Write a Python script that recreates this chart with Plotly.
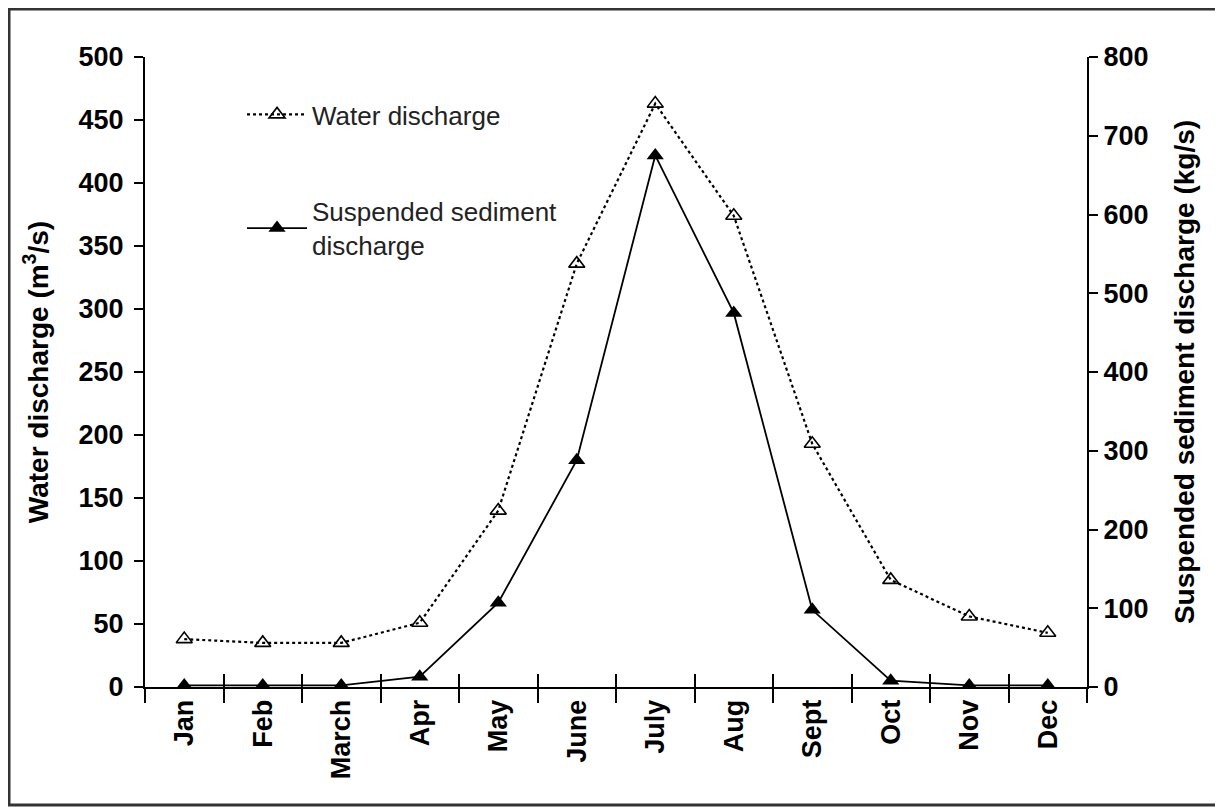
import plotly.graph_objects as go

months = ["Jan", "Feb", "March", "Apr", "May", "June", "July", "Aug", "Sept", "Oct", "Nov", "Dec"]
water_discharge = [38, 35, 35, 51, 140, 336, 463, 374, 193, 85, 56, 43]
sediment_discharge = [2, 2, 2, 13, 107, 288, 675, 475, 98, 8, 2, 2]
left_ticks = [0, 50, 100, 150, 200, 250, 300, 350, 400, 450, 500]
right_ticks = [0, 100, 200, 300, 400, 500, 600, 700, 800]

FONT = "Liberation Sans, Arial, sans-serif"

fig = go.Figure()
fig.add_trace(go.Scatter(
    x=months, y=water_discharge, name="Water discharge", mode="lines+markers",
    legendgroup="water",
    line=dict(color="black", width=2.2, dash="dot"),
    marker=dict(symbol="triangle-up-open", size=14, color="black", line=dict(width=1.6)),
    yaxis="y", xaxis="x"))
fig.add_trace(go.Scatter(
    x=months, y=sediment_discharge, name="Suspended sediment<br>discharge", mode="lines+markers",
    legendgroup="sediment",
    line=dict(color="black", width=1.8),
    marker=dict(symbol="triangle-up", size=15, color="black"),
    yaxis="y2", xaxis="x"))
# helper trace for the inside half of the crossing x ticks
fig.add_trace(go.Scatter(x=months, y=water_discharge, xaxis="x2", yaxis="y",
                         mode="none", showlegend=False, hoverinfo="skip"))

fig.update_layout(
    width=1215, height=801,
    paper_bgcolor="white", plot_bgcolor="white",
    margin=dict(l=137, r=136, t=49, b=122),
    font=dict(family=FONT, color="black"),
    showlegend=True,
    legend=dict(x=0.103, y=0.946, xanchor="left", yanchor="top",
                font=dict(size=26, family=FONT, color="#222"),
                bgcolor="rgba(0,0,0,0)", tracegroupgap=60, itemwidth=60,
                traceorder="grouped"),
    xaxis=dict(type="category", categoryorder="array", categoryarray=months,
               showline=True, linecolor="black", linewidth=2,
               ticks="outside", ticklen=14, tickwidth=2, tickcolor="black",
               tickson="boundaries", tickangle=-90,
               tickfont=dict(size=27, family=FONT, weight="bold"),
               showgrid=False, zeroline=False, range=[-0.5, 11.5]),
    xaxis2=dict(type="category", categoryorder="array", categoryarray=months,
                overlaying="x", matches="x", anchor="y", side="bottom",
                ticks="inside", ticklen=13, tickwidth=2, tickcolor="black",
                tickson="boundaries", showticklabels=False, showline=False,
                showgrid=False, zeroline=False),
    yaxis=dict(range=[0, 500], tickvals=left_ticks, showline=True, linecolor="black",
               linewidth=2, ticks="outside", ticklen=9, tickwidth=2, tickcolor="black",
               ticklabelstandoff=5,
               tickfont=dict(size=27, family=FONT, weight="bold"),
               showgrid=False, zeroline=False,
               title=dict(text="Water discharge (m<sup>3</sup>/s)",
                          font=dict(size=28, family=FONT, weight="bold"), standoff=22)),
    yaxis2=dict(range=[0, 800], tickvals=right_ticks, overlaying="y", side="right",
                anchor="x", showline=True, linecolor="black", linewidth=2,
                ticks="outside", ticklen=9, tickwidth=2, tickcolor="black",
                tickfont=dict(size=27, family=FONT, weight="bold"),
                showgrid=False, zeroline=False,
                title=dict(text="Suspended sediment discharge (kg/s)",
                           font=dict(size=28, family=FONT, weight="bold"), standoff=27)),
)

# outer frame of the figure
fig.add_shape(type="rect", xref="paper", yref="paper",
              x0=(1 - 137) / 942, x1=(1212 - 137) / 942,
              y0=-(797 - 679) / 630, y1=(679 - 1) / 630,
              line=dict(color="#333", width=3), fillcolor="rgba(0,0,0,0)", layer="below")

fig.write_html("out.html")
